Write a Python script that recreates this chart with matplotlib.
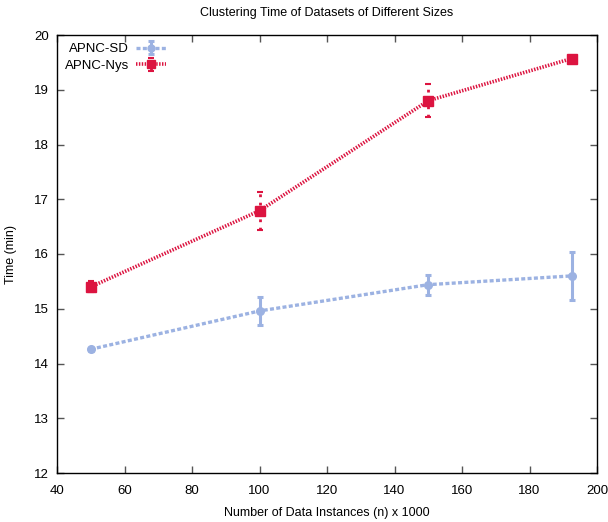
import matplotlib
matplotlib.use("Agg")
import matplotlib.pyplot as plt

plt.rcParams['font.family'] = ['Liberation Sans', 'DejaVu Sans']

# Dataset sizes (thousands of instances)
sizes = [50, 100, 150, 192.5]

# Clustering time in minutes with error bars
sd_time = [14.26, 14.96, 15.44, 15.6]
sd_err = [0.03, 0.26, 0.18, 0.44]
nys_time = [15.4, 16.79, 18.8, 19.57]
nys_err = [0.1, 0.35, 0.3, 0.05]

sd_color = '#9cb2e2'
nys_color = '#dc1440'

fig = plt.figure(figsize=(6.08, 5.22), dpi=100)
ax = fig.add_axes([57/608, 49/522, 540/608, 438/522])

# APNC-SD: blue square-dashed line with round markers
ax.errorbar(sizes, sd_time, yerr=sd_err, color=sd_color, lw=2.4,
            linestyle=(0, (1.2, 0.7)), marker='o', ms=5.5, capsize=2.5,
            capthick=2.2, elinewidth=2.2, label='APNC-SD', zorder=3)

# APNC-Nys: red fine-dotted line with square markers and dotted error bars
eb = ax.errorbar(sizes, nys_time, yerr=nys_err, color=nys_color, lw=2.6,
                 linestyle=(0, (0.4, 0.4)), marker='s', ms=6.5, capsize=2,
                 capthick=1.5, elinewidth=2, label='APNC-Nys', zorder=4)
for col in eb[2]:
    col.set_linestyle((0, (1, 2)))

ax.set_xlim(40, 200)
ax.set_ylim(12, 20)
ax.set_xticks(range(40, 201, 20))
ax.set_yticks(range(12, 21, 1))
ax.tick_params(direction='in', top=True, right=True, labelsize=9.5,
               length=5, width=1, color='#555555')
ax.tick_params(axis='x', pad=9)
ax.tick_params(axis='y', pad=6)
for sp in ax.spines.values():
    sp.set_linewidth(1)

ax.set_title('Clustering Time of Datasets of Different Sizes', fontsize=9, pad=14)
ax.set_xlabel('Number of Data Instances (n) x 1000', fontsize=9, labelpad=7)
ax.set_ylabel('Time (min)', fontsize=9, labelpad=12)

ax.legend(loc='upper left', frameon=False, markerfirst=False, fontsize=9.5,
          handlelength=2.3, borderaxespad=0.2, labelspacing=0.35,
          handletextpad=0.5, borderpad=0.4, markerscale=0.9)

fig.savefig('out.png', dpi=100)
